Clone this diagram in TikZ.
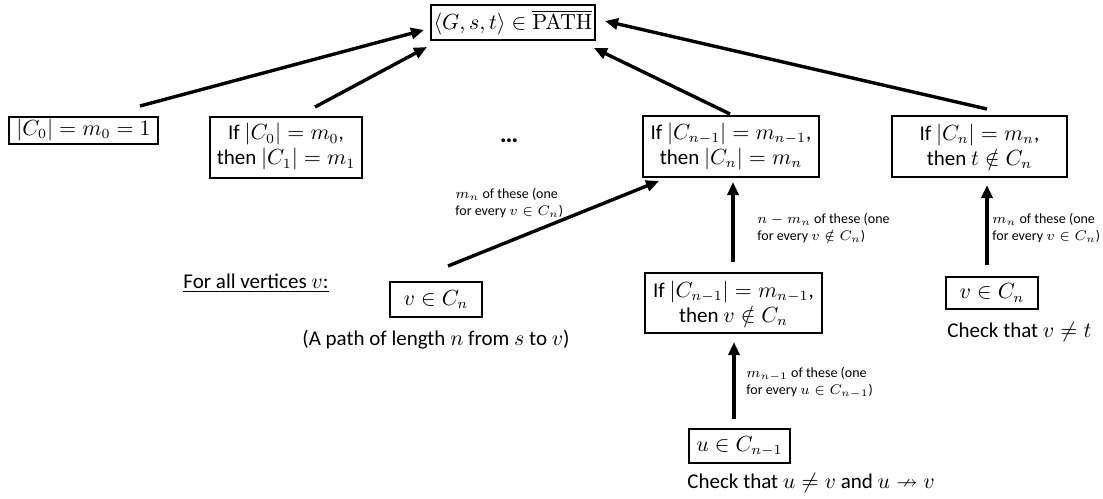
\documentclass[tikz,border=0pt]{standalone}
\usepackage{amssymb}
\usepackage[no-math]{fontspec}
\setmainfont{Carlito}
\usetikzlibrary{arrows.meta}
\newcommand{\mainsz}{\fontsize{10.5}{12.5}\selectfont}
\newcommand{\smallsz}{\fontsize{7}{8.5}\selectfont}
\tikzset{
  box/.style={draw, line width=1pt, inner sep=0pt, align=center, font=\mainsz},
  arr/.style={line width=1.7pt, -{Triangle[length=6.5pt,width=5.5pt]}},
  lbl/.style={inner sep=0pt, align=left, font=\smallsz, anchor=west},
  txt/.style={inner sep=0pt, font=\mainsz}
}
\begin{document}
\begin{tikzpicture}[x=0.5pt,y=-0.5pt]
\path[use as bounding box] (0,0) rectangle (1103,498);

\node[box, minimum width=82pt, minimum height=17.5pt] (top) at (513,22.5) {$\langle G,s,t\rangle \in \overline{\mathrm{PATH}}$};
\node[box, minimum width=74.5pt, minimum height=13.5pt] (c0) at (83.5,130) {$|C_0| = m_0 = 1$};
\node[box, minimum width=76pt, minimum height=30.5pt] (ifc0) at (286,147) {If $|C_0| = m_0$,\\ then $|C_1| = m_1$};
\node[txt, font=\fontsize{13}{13}\selectfont] (dots) at (509,141) {\textbf{\ldots}};
\node[box, minimum width=88pt, minimum height=30.5pt] (ifn1) at (731,146.5) {If $|C_{n-1}| = m_{n-1}$,\\ then $|C_n| = m_n$};
\node[box, minimum width=87.5pt, minimum height=30.5pt] (ifn) at (979.5,146.5) {If $|C_n| = m_n$,\\ then $t \notin C_n$};

\node[txt] (forall) at (256,283) {\underline{For all vertices $v$:}};
\node[box, minimum width=46pt, minimum height=17.5pt] (vl) at (436,299.5) {$v \in C_n$};
\node[txt] (path) at (436,340) {(A path of length $n$ from $s$ to $v$)};

\node[box, minimum width=88.5pt, minimum height=30pt] (lowif) at (733.5,303) {If $|C_{n-1}| = m_{n-1}$,\\ then $v \notin C_n$};
\node[box, minimum width=50.5pt, minimum height=17pt] (u) at (739.5,446) {$u \in C_{n-1}$};
\node[txt, anchor=west] (chku) at (687,483) {Check that $u \neq v$ and $u \nrightarrow v$};

\node[box, minimum width=46pt, minimum height=16pt] (vr) at (992,293) {$v \in C_n$};
\node[txt, anchor=west] (chkv) at (947,332) {Check that $v \neq t$};

\node[lbl] (l1) at (455,203.5) {$m_n$ of these (one\\ for every $v \in C_n$)};
\node[lbl] (l2) at (757,228.5) {$n - m_n$ of these (one\\ for every $v \notin C_n$)};
\node[lbl] (l3) at (992,228.5) {$m_n$ of these (one\\ for every $v \in C_n$)};
\node[lbl] (l4) at (746,382.5) {$m_{n-1}$ of these (one\\ for every $u \in C_{n-1}$)};

\draw[arr] ([shift={(56.5,-9.5)}]c0.north) -- ([shift={(-6,7.5)}]top.west);
\draw[arr] ([shift={(29,-8.5)}]ifc0.north) -- ([shift={(-3,6)}]top.south west);
\draw[arr] ([shift={(-1,-1)}]ifn1.north) -- ([shift={(-2,7)}]top.south east);
\draw[arr] ([shift={(7.5,-6)}]ifn.north) -- ([shift={(9,-1.5)}]top.east);
\draw[arr] ([shift={(12,-15)}]vl.north) -- ([shift={(17,3)}]ifn1.south west);
\draw[arr] ([shift={(-0.5,-10)}]lowif.north) -- ([shift={(2,4)}]ifn1.south);
\draw[arr] ([shift={(-5.5,-9)}]u.north) -- ([shift={(0.5,8)}]lowif.south);
\draw[arr] ([shift={(-5,-11)}]vr.north) -- ([shift={(7.5,7)}]ifn.south);
\end{tikzpicture}
\end{document}
